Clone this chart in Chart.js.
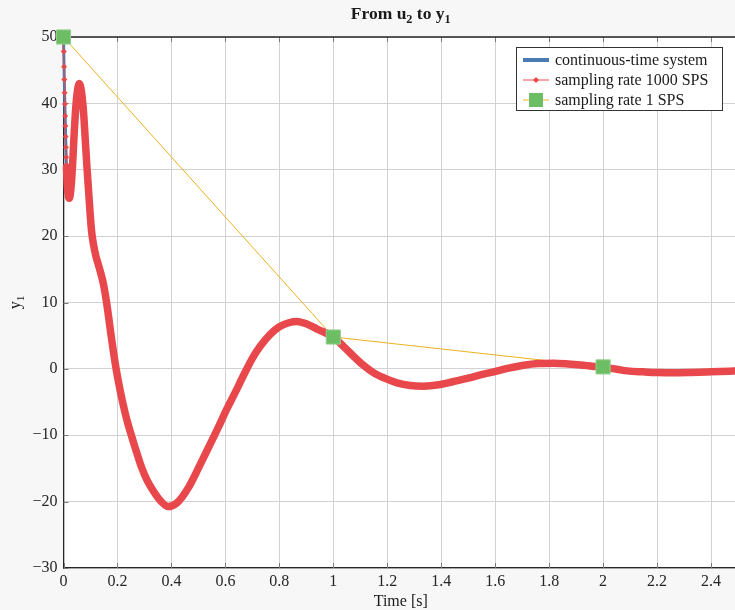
<!DOCTYPE html>
<html>
<head>
<meta charset="utf-8">
<script src="https://cdn.jsdelivr.net/npm/chart.js@4.4.1/dist/chart.umd.min.js"></script>
<style>
  html, body { margin: 0; padding: 0; background: #f7f7f7; overflow: hidden; }
  #wrap { width: 738px; height: 610px; }
</style>
</head>
<body>
<div id="wrap"><canvas id="stepChart"></canvas></div>
<script>
// response from u2 to y1
const times = [0, 0.001, 0.002, 0.003, 0.004, 0.005, 0.006, 0.007, 0.008, 0.009, 0.010, 0.011,
  0.014, 0.018, 0.022, 0.026, 0.030, 0.035, 0.039, 0.044, 0.049, 0.054, 0.059, 0.064, 0.069,
  0.075, 0.080, 0.086, 0.092, 0.098, 0.104, 0.110, 0.120, 0.132, 0.148, 0.160, 0.179, 0.195,
  0.218, 0.235, 0.253, 0.272, 0.290, 0.310, 0.333, 0.360, 0.389, 0.420, 0.440, 0.463, 0.490,
  0.520, 0.544, 0.575, 0.606, 0.637, 0.667, 0.700, 0.729, 0.766, 0.800, 0.835, 0.865,
  0.900, 0.940, 1.000, 1.040, 1.075, 1.110, 1.150, 1.190, 1.236, 1.285, 1.335, 1.390, 1.446,
  1.500, 1.545, 1.595, 1.650, 1.706, 1.760, 1.817, 1.870, 1.917, 1.960, 2.000, 2.050, 2.090,
  2.150, 2.200, 2.260, 2.325, 2.400, 2.500];
const response = [50, 47.8, 45.5, 43.6, 41.6, 39.9, 38.1, 36.6, 35.0, 33.4, 31.9, 30.4,
  27.6, 26.0, 25.7, 26.6, 28.4, 31.8, 35.0, 38.5, 41.0, 42.5, 43.0, 42.4, 41.0,
  38.3, 35.0, 31.0, 27.4, 23.8, 20.8, 19.0, 17.0, 15.3, 12.8, 9.9, 4.3, 0.0,
  -4.8, -7.7, -10.2, -12.7, -14.9, -16.8, -18.4, -19.9, -20.75, -20.2, -19.3, -17.9, -15.8,
  -13.3, -11.3, -8.7, -6.0, -3.5, -1.0, 1.6, 3.4, 5.2, 6.35, 6.95, 7.15,
  6.8, 6.0, 4.8, 3.3, 1.9, 0.6, -0.6, -1.4, -2.1, -2.5, -2.6, -2.4, -1.9,
  -1.4, -0.9, -0.45, 0.1, 0.55, 0.8, 0.85, 0.75, 0.6, 0.4, 0.25, -0.05, -0.3,
  -0.45, -0.55, -0.6, -0.55, -0.45, -0.3];
const sampleTimes = [0, 1, 2];
const sampleValues = [50, 4.8, 0.3];
const xTicks = [0, 0.2, 0.4, 0.6, 0.8, 1, 1.2, 1.4, 1.6, 1.8, 2, 2.2, 2.4];
const yTicks = [-30, -20, -10, 0, 10, 20, 30, 40, 50];
const legendLabels = ["continuous-time system", "sampling rate 1000 SPS", "sampling rate 1 SPS"];

const FONT = "'Liberation Serif', 'DejaVu Serif', serif";
const BLUE = "#4a7db4", RED = "#e8484b", YELLOW = "#edb120", GREEN = "#6cbd64";
const markerCount = 12; // first samples still show as separate diamonds

const curve = times.map((t, i) => ({ x: t, y: response[i] }));
const samples = sampleTimes.map((t, i) => ({ x: t, y: sampleValues[i] }));

// text with subscripts: parts = [[text, isSub], ...]
function drawRich(ctx, parts, x, y, size, bold) {
  const f = s => (bold ? "bold " : "") + s + "px " + FONT;
  let total = 0;
  parts.forEach(p => { ctx.font = f(p[1] ? size * 0.7 : size); total += ctx.measureText(p[0]).width; });
  let cx = x - total / 2;
  ctx.textAlign = "left";
  ctx.textBaseline = "alphabetic";
  parts.forEach(p => {
    ctx.font = f(p[1] ? size * 0.7 : size);
    ctx.fillText(p[0], cx, p[1] ? y + size * 0.22 : y);
    cx += ctx.measureText(p[0]).width;
  });
}

const frame = {
  id: "frame",
  beforeDraw(chart) {
    const { ctx, chartArea: a } = chart;
    ctx.save();
    ctx.fillStyle = "#ffffff";
    ctx.fillRect(a.left, a.top, a.right - a.left, a.bottom - a.top);
    ctx.restore();
  },
  beforeDatasetsDraw(chart) {
    const { ctx, chartArea: a, scales } = chart;
    ctx.save();
    ctx.strokeStyle = "#7a7a7a";
    ctx.lineWidth = 1;
    ctx.beginPath();
    xTicks.forEach(v => {
      const px = Math.round(scales.x.getPixelForValue(v)) + 0.5;
      ctx.moveTo(px, a.top); ctx.lineTo(px, a.top + 5);
      ctx.moveTo(px, a.bottom); ctx.lineTo(px, a.bottom - 5);
    });
    yTicks.forEach(v => {
      const py = Math.round(scales.y.getPixelForValue(v)) + 0.5;
      ctx.moveTo(a.left, py); ctx.lineTo(a.left + 5, py);
    });
    ctx.stroke();
    ctx.strokeStyle = "#262626";
    ctx.lineWidth = 1.3;
    ctx.beginPath();
    ctx.moveTo(a.left, a.top); ctx.lineTo(a.right, a.top);
    ctx.stroke();
    ctx.restore();
  },
  afterDraw(chart) {
    const { ctx, chartArea: a } = chart;
    ctx.save();
    ctx.fillStyle = "#1a1a1a";
    const mid = (a.left + a.right) / 2;
    drawRich(ctx, [["From u", false], ["2", true], [" to y", false], ["1", true]], mid, 19, 17.5, true);
    drawRich(ctx, [["Time [s]", false]], mid, 606, 16, false);
    ctx.translate(20, (a.top + a.bottom) / 2);
    ctx.rotate(-Math.PI / 2);
    drawRich(ctx, [["y", false], ["1", true]], 0, 0, 16, false);
    ctx.restore();

    // legend
    const lx = 516.5, ly = 47.5, lw = 206, lh = 63;
    ctx.save();
    ctx.fillStyle = "#ffffff";
    ctx.fillRect(lx, ly, lw, lh);
    ctx.strokeStyle = "#333333";
    ctx.lineWidth = 1;
    ctx.strokeRect(lx, ly, lw, lh);
    const rows = [60, 80, 100];
    ctx.font = "16px " + FONT;
    ctx.textBaseline = "middle";
    ctx.textAlign = "left";
    rows.forEach((ry, i) => {
      ctx.beginPath();
      if (i === 0) { ctx.strokeStyle = BLUE; ctx.lineWidth = 4; }
      else if (i === 1) { ctx.strokeStyle = RED; ctx.lineWidth = 1; }
      else { ctx.strokeStyle = YELLOW; ctx.lineWidth = 1; }
      ctx.moveTo(523, ry); ctx.lineTo(549, ry);
      ctx.stroke();
      if (i === 1) {
        ctx.fillStyle = RED;
        ctx.beginPath();
        ctx.moveTo(533, ry); ctx.lineTo(536, ry - 3); ctx.lineTo(539, ry); ctx.lineTo(536, ry + 3);
        ctx.closePath(); ctx.fill();
      }
      if (i === 2) {
        ctx.fillStyle = GREEN;
        ctx.fillRect(529, ry - 7, 14, 14);
      }
      ctx.fillStyle = "#1a1a1a";
      ctx.fillText(legendLabels[i], 555, ry + 1);
    });
    ctx.restore();
  }
};

new Chart(document.getElementById("stepChart"), {
  type: "line",
  data: {
    datasets: [
      {
        label: legendLabels[0],
        data: curve,
        borderColor: BLUE,
        borderWidth: 3,
        pointRadius: 0,
        cubicInterpolationMode: "monotone",
        clip: false,
        order: 4
      },
      {
        label: legendLabels[2],
        data: samples,
        borderColor: YELLOW,
        borderWidth: 1,
        pointRadius: 0,
        clip: false,
        order: 3
      },
      {
        label: legendLabels[1],
        data: curve,
        borderColor: RED,
        backgroundColor: RED,
        borderWidth: 7.5,
        borderCapStyle: "round",
        borderJoinStyle: "round",
        cubicInterpolationMode: "monotone",
        pointStyle: "rectRot",
        pointRadius: c => (c.dataIndex < markerCount ? 3 : 0),
        pointBorderWidth: 0,
        segment: {
          borderWidth: c => (c.p0DataIndex < markerCount - 1 ? 1 : 7.5)
        },
        clip: false,
        order: 2
      },
      {
        label: legendLabels[2] + " markers",
        data: samples,
        showLine: false,
        pointStyle: "rect",
        pointRadius: 10,
        pointBackgroundColor: GREEN,
        pointBorderColor: "#93cf8c",
        pointBorderWidth: 1,
        clip: false,
        order: 1
      }
    ]
  },
  options: {
    responsive: true,
    maintainAspectRatio: false,
    animation: false,
    events: [],
    layout: { autoPadding: false, padding: { top: 37, left: 0, right: 0, bottom: 0 } },
    plugins: { legend: { display: false }, tooltip: { enabled: false }, title: { display: false } },
    scales: {
      x: {
        type: "linear",
        min: 0,
        max: 2.5,
        afterBuildTicks: s => { s.ticks = xTicks.map(v => ({ value: v })); },
        afterFit: s => { s.height = 42; s.paddingLeft = 0; s.paddingRight = 0; },
        grid: { color: "#d2d2d2", drawTicks: false },
        border: { display: true, color: "#262626", width: 1.3 },
        ticks: {
          padding: 4,
          color: "#262626",
          font: { family: FONT, size: 16 },
          maxRotation: 0,
          callback: v => String(v)
        }
      },
      y: {
        min: -30,
        max: 50,
        afterBuildTicks: s => { s.ticks = yTicks.map(v => ({ value: v })); },
        afterFit: s => { s.width = 63.5; s.paddingTop = 0; s.paddingBottom = 0; },
        grid: { color: "#d2d2d2", drawTicks: false },
        border: { display: true, color: "#262626", width: 1.3 },
        ticks: {
          padding: 6,
          color: "#262626",
          font: { family: FONT, size: 16 },
          callback: v => (v < 0 ? "\u2212" + (-v) : String(v))
        }
      }
    }
  },
  plugins: [frame]
});
</script>
</body>
</html>
